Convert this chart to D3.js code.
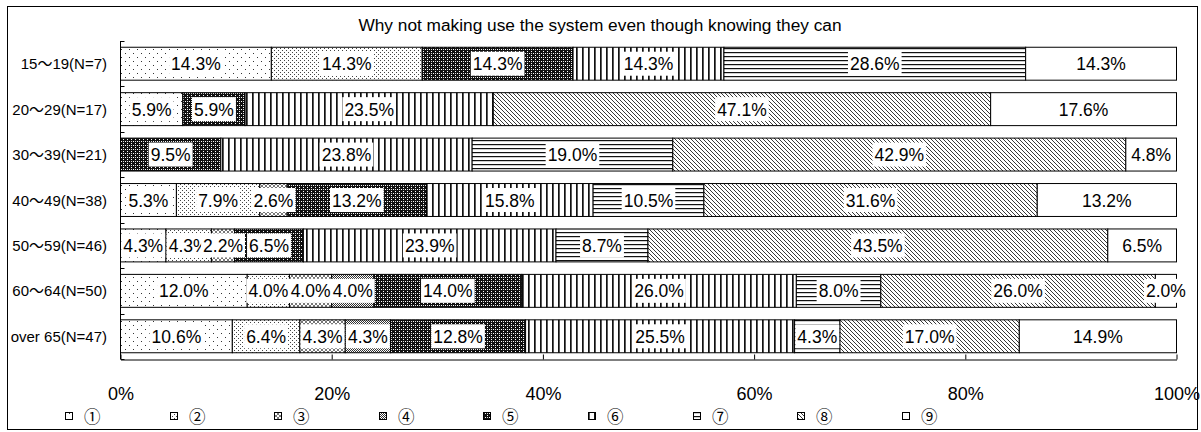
<!DOCTYPE html>
<html>
<head>
<meta charset="utf-8">
<script src="https://cdn.jsdelivr.net/npm/d3@7"></script>
<style>
  html, body { margin: 0; padding: 0; background: #fff; }
  svg { display: block; }
  text { font-family: "Liberation Sans", Arial, "Noto Sans CJK JP", sans-serif; fill: #000; }
</style>
</head>
<body>
<svg id="chart" width="1201" height="432"></svg>
<script>
// Age groups (top to bottom) and the share of each reason ①–⑨ in percent
const categories = ["15～19(N=7)", "20～29(N=17)", "30～39(N=21)", "40～49(N=38)",
                    "50～59(N=46)", "60～64(N=50)", "over 65(N=47)"];
const seriesNames = ["①", "②", "③", "④", "⑤", "⑥", "⑦", "⑧", "⑨"];
const reason1 = [14.3, 5.9, 0, 5.3, 4.3, 12.0, 10.6];
const reason2 = [14.3, 0, 0, 7.9, 4.3, 4.0, 6.4];
const reason3 = [0, 0, 0, 2.6, 2.2, 4.0, 4.3];
const reason4 = [0, 0, 0, 0, 0, 4.0, 4.3];
const reason5 = [14.3, 5.9, 9.5, 13.2, 6.5, 14.0, 12.8];
const reason6 = [14.3, 23.5, 23.8, 15.8, 23.9, 26.0, 25.5];
const reason7 = [28.6, 0, 19.0, 10.5, 8.7, 8.0, 4.3];
const reason8 = [0, 47.1, 42.9, 31.6, 43.5, 26.0, 17.0];
const reason9 = [14.3, 17.6, 4.8, 13.2, 6.5, 2.0, 14.9];
const xTicks = [0, 0.2, 0.4, 0.6, 0.8, 1.0];
const titleText = "Why not making use the system even though knowing they can";

const seriesValues = [reason1, reason2, reason3, reason4, reason5, reason6, reason7, reason8, reason9];
const rows = categories.map((c, i) => {
  const r = { cat: c };
  seriesNames.forEach((s, k) => { r[s] = seriesValues[k][i]; });
  return r;
});

const svg = d3.select("#chart");

// Outer frame
svg.append("rect").attr("x", 7.5).attr("y", 6.5).attr("width", 1190).attr("height", 423)
  .attr("fill", "#fff").attr("stroke", "#000").attr("stroke-width", 1);

// Fill patterns, one per reason
const defs = svg.append("defs");
function pat(id, w, h, draw) {
  const p = defs.append("pattern").attr("id", id).attr("patternUnits", "userSpaceOnUse")
    .attr("width", w).attr("height", h);
  p.append("rect").attr("width", w).attr("height", h).attr("fill", "#fff");
  draw(p);
}
const dot = (p, x, y, c) => p.append("rect").attr("x", x).attr("y", y).attr("width", 1).attr("height", 1).attr("fill", c || "#000");
pat("p1", 8, 8, p => { dot(p, 1, 1, "#333"); dot(p, 5, 5, "#333"); });
pat("p2", 4, 4, p => { dot(p, 0, 0, "#444"); dot(p, 2, 2, "#444"); });
pat("p3", 4, 4, p => {
  p.append("path").attr("d", "M0,0L4,4M4,0L0,4").attr("stroke", "#555").attr("stroke-width", 0.8);
});
pat("p4", 2, 2, p => { dot(p, 0, 0, "#333"); dot(p, 1, 1, "#333"); });
pat("p5", 4, 4, p => {
  p.select("rect").attr("fill", "#111");
  dot(p, 1, 1, "#fff"); dot(p, 3, 3, "#fff"); dot(p, 3, 1, "#ddd");
});
pat("p6", 6, 6, p => {
  p.append("rect").attr("x", 0).attr("y", 0).attr("width", 1.7).attr("height", 6).attr("fill", "#111");
});
pat("p7", 4, 4, p => {
  p.append("rect").attr("x", 0).attr("y", 0).attr("width", 4).attr("height", 1.2).attr("fill", "#111");
});
pat("p8", 4, 4, p => {
  p.append("path").attr("d", "M-1,-1L5,5M-1,3L1,5M3,-1L5,1").attr("stroke", "#222").attr("stroke-width", 0.9);
});
pat("p9", 4, 4, p => {});
const fills = seriesNames.map((s, i) => `url(#p${i + 1})`);

// Scales
const x0 = 120.5, x1 = 1176.5;
const yTop = 41, yBottom = 359;
const x = d3.scaleLinear().domain([0, 1]).range([x0, x1]);
const y = d3.scaleBand().domain(categories).range([yTop, yBottom]).paddingInner(0.275).paddingOuter(0.1375);

// Title
svg.append("text").attr("x", 600).attr("y", 31).attr("text-anchor", "middle")
  .attr("font-size", 17.3).text(titleText);

// Stacked bars normalised to 100%
const stack = d3.stack().keys(seriesNames).offset(d3.stackOffsetExpand);
const layers = stack(rows);

const gBars = svg.append("g");
layers.forEach((layer, k) => {
  gBars.selectAll(null).data(layer.filter(d => d[1] - d[0] > 0)).join("rect")
    .attr("x", d => x(d[0]))
    .attr("y", d => y(d.data.cat))
    .attr("width", d => x(d[1]) - x(d[0]))
    .attr("height", y.bandwidth())
    .attr("fill", fills[k])
    .attr("stroke", "#000").attr("stroke-width", 1);
});

// Value labels on white boxes
const gLab = svg.append("g");
layers.forEach((layer, k) => {
  layer.forEach(d => {
    const v = d.data[seriesNames[k]];
    if (!(v > 0)) return;
    const cx = (x(d[0]) + x(d[1])) / 2;
    const cy = y(d.data.cat) + y.bandwidth() / 2;
    const g = gLab.append("g");
    const bg = g.append("rect").attr("fill", "#fff");
    const t = g.append("text").attr("x", cx).attr("y", cy + 6.5).attr("text-anchor", "middle")
      .attr("font-size", 17.5).text(v.toFixed(1) + "%");
    const bb = t.node().getBBox();
    bg.attr("x", bb.x - 2).attr("y", cy - 12).attr("width", bb.width + 4).attr("height", 24);
  });
});

// Category axis
const yAxis = svg.append("g");
yAxis.append("line").attr("x1", x0).attr("x2", x0).attr("y1", yTop).attr("y2", yBottom).attr("stroke", "#000");
d3.range(categories.length + 1).forEach(i => {
  const yy = Math.round(yTop + i * y.step()) + 0.5;
  yAxis.append("line").attr("x1", x0).attr("x2", x0 + 4).attr("y1", yy).attr("y2", yy).attr("stroke", "#000");
});
categories.forEach(c => {
  yAxis.append("text").attr("x", 107).attr("y", y(c) + y.bandwidth() / 2 + 5.5)
    .attr("text-anchor", "end").attr("font-size", 15).text(c);
});

// Value axis
const xAxis = d3.axisBottom(x).tickValues(xTicks).tickFormat(d3.format(".0%"))
  .tickSizeInner(-5).tickSizeOuter(0);
const gx = svg.append("g").attr("transform", `translate(0,${yBottom + 0.5})`).call(xAxis);
gx.select(".domain").attr("stroke", "#000");
gx.selectAll(".tick line").attr("stroke", "#000");
gx.selectAll(".tick text").attr("y", 40).attr("dy", null).attr("font-size", 18)
  .attr("font-family", "Liberation Sans, Arial, sans-serif").attr("fill", "#000");

// Legend
const gLeg = svg.append("g");
seriesNames.forEach((s, i) => {
  const lx = Math.round(65 + i * 104.6);
  gLeg.append("rect").attr("x", lx + 0.5).attr("y", 412.5).attr("width", 7).attr("height", 7)
    .attr("fill", fills[i]).attr("stroke", "#000");
  gLeg.append("text").attr("x", lx + 19).attr("y", 423).attr("font-size", 16.5)
    .attr("font-family", "Noto Sans CJK JP, sans-serif").text(s);
});
</script>
</body>
</html>
